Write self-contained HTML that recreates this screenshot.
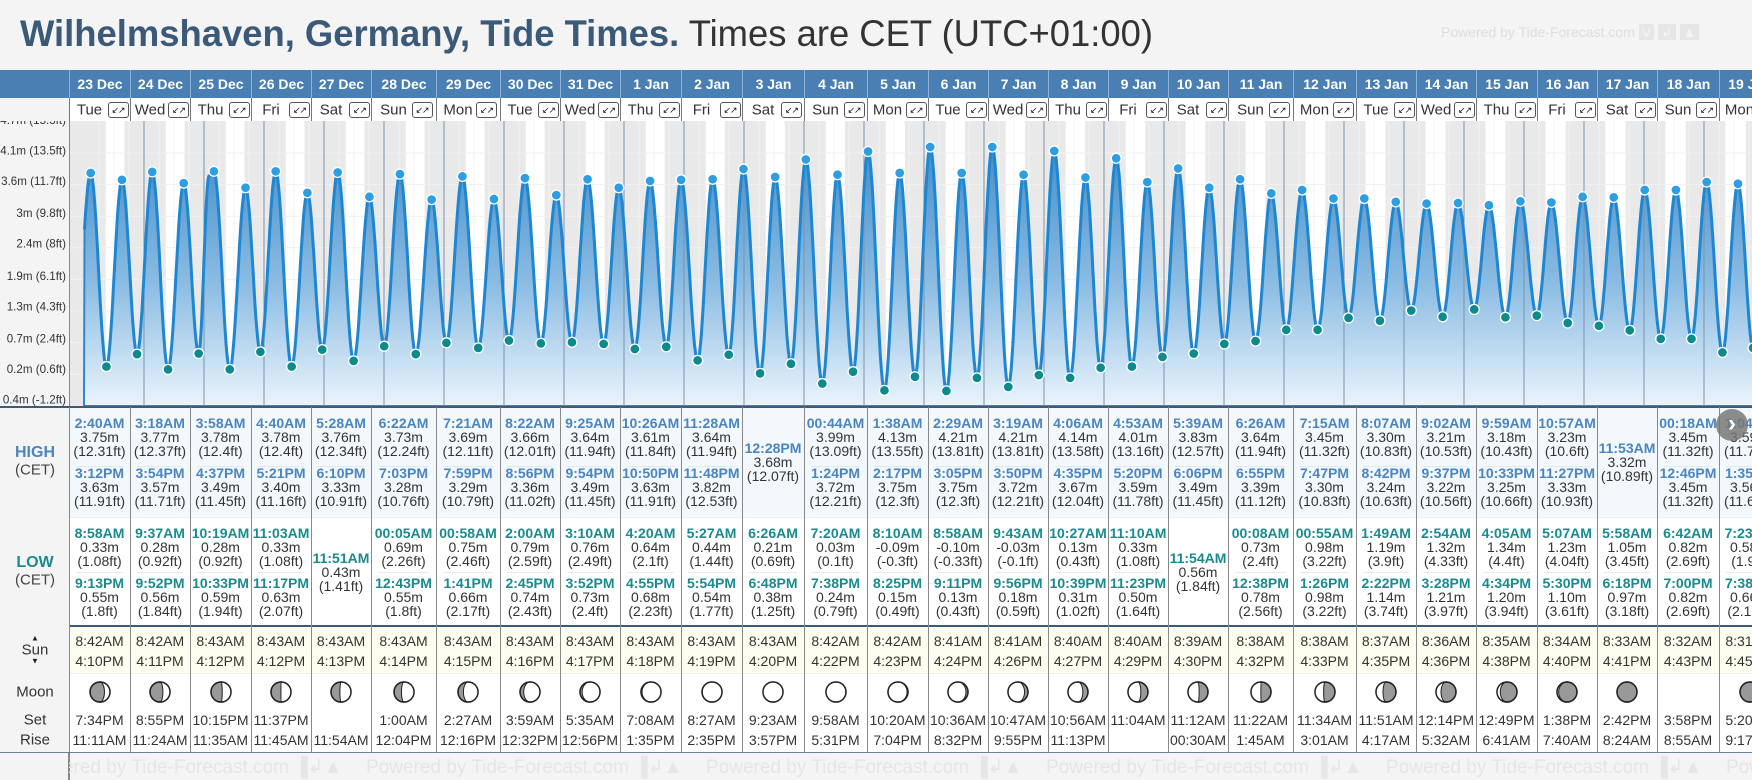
<!DOCTYPE html>
<html><head><meta charset="utf-8">
<style>
*{box-sizing:border-box;margin:0;padding:0}
body{width:1752px;height:780px;overflow:hidden;background:#f4f4f4;font-family:"Liberation Sans",Arial,sans-serif;position:relative;color:#333}
#wrap{position:absolute;left:0;top:0;width:1752px;height:780px;overflow:hidden}
.abs{position:absolute}
.c{position:absolute;text-align:center;white-space:nowrap;transform:translate(-50%,-50%)}
#title{position:absolute;left:20px;top:13px;font-size:37px;white-space:nowrap;transform-origin:0 0;color:#333}
#title b{color:#3b5a78}
.hd{position:absolute;top:70px;height:28px;background:#4a7fb3;color:#fff;font-weight:bold;font-size:14px;line-height:28px;text-align:center;border-left:1px solid #8fb0d2}
.dw{position:absolute;top:98px;height:23px;background:#fff;border-left:1px solid #777;font-size:15px}
.ex{position:absolute;top:4px;width:21px;height:16px;border:1px solid #555;border-radius:3px;font-size:9px;line-height:14px;text-align:center;color:#111;letter-spacing:-1px}
.col{position:absolute;top:407px;height:345px;border-left:1px solid #888}
.t{font-size:14px;line-height:14px}
.hb{color:#4a85be;font-weight:bold}
.lb{color:#1a8a8f;font-weight:bold}
.foot{position:absolute;top:756px;font-size:19px;color:#e6e6e6;white-space:nowrap}
</style></head><body><div id="wrap">
<div id="title"><b>Wilhelmshaven, Germany, Tide Times.</b> Times are CET (UTC+01:00)</div>
<div class="abs" style="left:1441px;top:24px;font-size:14px;color:#dedede;white-space:nowrap">Powered by Tide-Forecast.com <span style="background:#e6e6e6;color:#f4f4f4;padding:0 3px">V</span> <span style="background:#e6e6e6;color:#f4f4f4;padding:0 3px">↲</span> <span style="background:#e6e6e6;color:#f4f4f4;padding:0 3px">▲</span></div>
<div class="abs" style="left:0;top:70px;width:69px;height:28px;background:#4a7fb3"></div>
<div class="abs" style="left:0;top:98px;width:69px;height:23px;background:#f4f4f4"></div>
<svg id="chart" class="abs" style="left:0;top:0" width="1752" height="780"></svg>
<div id="tbl"></div>
</div>
<script>
const dates=["23 Dec","24 Dec","25 Dec","26 Dec","27 Dec","28 Dec","29 Dec","30 Dec","31 Dec","1 Jan","2 Jan","3 Jan","4 Jan","5 Jan","6 Jan","7 Jan","8 Jan","9 Jan","10 Jan","11 Jan","12 Jan","13 Jan","14 Jan","15 Jan","16 Jan","17 Jan","18 Jan","19 Jan"];
const dows=["Tue","Wed","Thu","Fri","Sat","Sun","Mon","Tue","Wed","Thu","Fri","Sat","Sun","Mon","Tue","Wed","Thu","Fri","Sat","Sun","Mon","Tue","Wed","Thu","Fri","Sat","Sun","Mon"];
const highTimes=[["2:40AM","3:12PM"],["3:18AM","3:54PM"],["3:58AM","4:37PM"],["4:40AM","5:21PM"],["5:28AM","6:10PM"],["6:22AM","7:03PM"],["7:21AM","7:59PM"],["8:22AM","8:56PM"],["9:25AM","9:54PM"],["10:26AM","10:50PM"],["11:28AM","11:48PM"],["12:28PM"],["00:44AM","1:24PM"],["1:38AM","2:17PM"],["2:29AM","3:05PM"],["3:19AM","3:50PM"],["4:06AM","4:35PM"],["4:53AM","5:20PM"],["5:39AM","6:06PM"],["6:26AM","6:55PM"],["7:15AM","7:47PM"],["8:07AM","8:42PM"],["9:02AM","9:37PM"],["9:59AM","10:33PM"],["10:57AM","11:27PM"],["11:53AM"],["00:18AM","12:46PM"],["1:04AM","1:35PM"]];
const highMeters=[[3.75,3.63],[3.77,3.57],[3.78,3.49],[3.78,3.40],[3.76,3.33],[3.73,3.28],[3.69,3.29],[3.66,3.36],[3.64,3.49],[3.61,3.63],[3.64,3.82],[3.68],[3.99,3.72],[4.13,3.75],[4.21,3.75],[4.21,3.72],[4.14,3.67],[4.01,3.59],[3.83,3.49],[3.64,3.39],[3.45,3.30],[3.30,3.24],[3.21,3.22],[3.18,3.25],[3.23,3.33],[3.32],[3.45,3.45],[3.59,3.56]];
const highFeet=[[12.31,11.91],[12.37,11.71],[12.4,11.45],[12.4,11.16],[12.34,10.91],[12.24,10.76],[12.11,10.79],[12.01,11.02],[11.94,11.45],[11.84,11.91],[11.94,12.53],[12.07],[13.09,12.21],[13.55,12.3],[13.81,12.3],[13.81,12.21],[13.58,12.04],[13.16,11.78],[12.57,11.45],[11.94,11.12],[11.32,10.83],[10.83,10.63],[10.53,10.56],[10.43,10.66],[10.6,10.93],[10.89],[11.32,11.32],[11.78,11.68]];
const lowTimes=[["8:58AM","9:13PM"],["9:37AM","9:52PM"],["10:19AM","10:33PM"],["11:03AM","11:17PM"],["11:51AM"],["00:05AM","12:43PM"],["00:58AM","1:41PM"],["2:00AM","2:45PM"],["3:10AM","3:52PM"],["4:20AM","4:55PM"],["5:27AM","5:54PM"],["6:26AM","6:48PM"],["7:20AM","7:38PM"],["8:10AM","8:25PM"],["8:58AM","9:11PM"],["9:43AM","9:56PM"],["10:27AM","10:39PM"],["11:10AM","11:23PM"],["11:54AM"],["00:08AM","12:38PM"],["00:55AM","1:26PM"],["1:49AM","2:22PM"],["2:54AM","3:28PM"],["4:05AM","4:34PM"],["5:07AM","5:30PM"],["5:58AM","6:18PM"],["6:42AM","7:00PM"],["7:23AM","7:38PM"]];
const lowMeters=[[0.33,0.55],[0.28,0.56],[0.28,0.59],[0.33,0.63],[0.43],[0.69,0.55],[0.75,0.66],[0.79,0.74],[0.76,0.73],[0.64,0.68],[0.44,0.54],[0.21,0.38],[0.03,0.24],[-0.09,0.15],[-0.10,0.13],[-0.03,0.18],[0.13,0.31],[0.33,0.50],[0.56],[0.73,0.78],[0.98,0.98],[1.19,1.14],[1.32,1.21],[1.34,1.20],[1.23,1.10],[1.05,0.97],[0.82,0.82],[0.58,0.66]];
const lowFeet=[[1.08,1.8],[0.92,1.84],[0.92,1.94],[1.08,2.07],[1.41],[2.26,1.8],[2.46,2.17],[2.59,2.43],[2.49,2.4],[2.1,2.23],[1.44,1.77],[0.69,1.25],[0.1,0.79],[-0.3,0.49],[-0.33,0.43],[-0.1,0.59],[0.43,1.02],[1.08,1.64],[1.84],[2.4,2.56],[3.22,3.22],[3.9,3.74],[4.33,3.97],[4.4,3.94],[4.04,3.61],[3.45,3.18],[2.69,2.69],[1.9,2.17]];
const sunrise=["8:42AM","8:42AM","8:43AM","8:43AM","8:43AM","8:43AM","8:43AM","8:43AM","8:43AM","8:43AM","8:43AM","8:43AM","8:42AM","8:42AM","8:41AM","8:41AM","8:40AM","8:40AM","8:39AM","8:38AM","8:38AM","8:37AM","8:36AM","8:35AM","8:34AM","8:33AM","8:32AM","8:31AM"];
const sunset=["4:10PM","4:11PM","4:12PM","4:12PM","4:13PM","4:14PM","4:15PM","4:16PM","4:17PM","4:18PM","4:19PM","4:20PM","4:22PM","4:23PM","4:24PM","4:26PM","4:27PM","4:29PM","4:30PM","4:32PM","4:33PM","4:35PM","4:36PM","4:38PM","4:40PM","4:41PM","4:43PM","4:45PM"];
const moonSet=["7:34PM","8:55PM","10:15PM","11:37PM","","1:00AM","2:27AM","3:59AM","5:35AM","7:08AM","8:27AM","9:23AM","9:58AM","10:20AM","10:36AM","10:47AM","10:56AM","11:04AM","11:12AM","11:22AM","11:34AM","11:51AM","12:14PM","12:49PM","1:38PM","2:42PM","3:58PM","5:20PM"];
const moonRise=["11:11AM","11:24AM","11:35AM","11:45AM","11:54AM","12:04PM","12:16PM","12:32PM","12:56PM","1:35PM","2:35PM","3:57PM","5:31PM","7:04PM","8:32PM","9:55PM","11:13PM","","00:30AM","1:45AM","3:01AM","4:17AM","5:32AM","6:41AM","7:40AM","8:24AM","8:55AM","9:17AM"];
const moonAge=[5.2,6.0,6.8,7.4,7.9,8.6,9.6,10.6,11.6,12.6,13.6,14.7,15.8,16.8,17.8,18.8,19.8,20.8,21.6,22.2,22.8,23.6,24.6,25.6,26.8,29.2,-1,1.6];
const edgeBefore=[-3.9,0.52];
const edgeAfter=[50.0,3.70];
const yTickLabels=["4.7m (15.3ft)","4.1m (13.5ft)","3.6m (11.7ft)","3m (9.8ft)","2.4m (8ft)","1.9m (6.1ft)","1.3m (4.3ft)","0.7m (2.4ft)","0.2m (0.6ft)","0.4m (-1.2ft)"];
const yTickFeet=[15.3,13.5,11.7,9.8,8,6.1,4.3,2.4,0.6,-1.2];
const colLefts=[69,130,190,251,311,371,436,500,560,620,681,742,804,867,928,988,1048,1108,1168,1228,1293,1356,1416,1476,1537,1597,1657,1719,1780];

function parseT(s){const m=s.match(/(\d+):(\d+)(AM|PM)/);let h=+m[1];if(m[3]==='PM'&&h!==12)h+=12;if(m[3]==='AM'&&h===12)h=0;return h+(+m[2])/60;}
function xAxis(hours){return 84+hours*2.5;}
function yAxis(m){return 385.25-56.6*m;}
function yTick(ft){return 150+(13.5-ft)*16.94;}

const NS='http://www.w3.org/2000/svg';
const svg=document.getElementById('chart');
function sv(tag,at,parent){const e=document.createElementNS(NS,tag);for(const k in at)e.setAttribute(k,at[k]);(parent||svg).appendChild(e);return e;}
const defs=sv('defs',{});
const cp=sv('clipPath',{id:'plotclip'},defs);sv('rect',{x:70,y:121,width:1682,height:286},cp);
const lg=sv('linearGradient',{id:'fillg',x1:0,y1:140,x2:0,y2:406,gradientUnits:'userSpaceOnUse'},defs);
sv('stop',{offset:0,'stop-color':'#3f8ccb'},lg);sv('stop',{offset:0.55,'stop-color':'#8dbde3'},lg);sv('stop',{offset:1,'stop-color':'#eaf4fc'},lg);
const g=sv('g',{'clip-path':'url(#plotclip)'});
const bg=sv('rect',{x:70,y:121,width:1682,height:286,fill:'#e9e9e9'},g);


for(let d=0;d<29;d++){const k=Math.min(d,sunrise.length-1);const a=xAxis(d*24+parseT(sunrise[k])),b=xAxis(d*24+parseT(sunset[k]));
const r=sv('rect',{x:a,y:121,width:b-a,height:286,fill:'#fff'},g);

}
for(let h=6;h<29*24;h+=6){const x=xAxis(h);sv('line',{x1:x,x2:x,y1:121,y2:407,stroke:'#f3f3f3','stroke-width':1},g);}
for(let i=0;i<9;i++){const y=153+31.6*i;sv('line',{x1:70,x2:1752,y1:y,y2:y,stroke:'#f1f1f1','stroke-width':1},g);}
const ext=[edgeBefore];
for(let d=0;d<dates.length;d++){highTimes[d].forEach((t,i)=>ext.push([d*24+parseT(t),highMeters[d][i],'H']));lowTimes[d].forEach((t,i)=>ext.push([d*24+parseT(t),lowMeters[d][i],'L']));}
ext.push(edgeAfter);ext.sort((a,b)=>a[0]-b[0]);
let pts=[];
for(let i=0;i<ext.length-1;i++){const [t0,v0]=ext[i],[t1,v1]=ext[i+1];for(let s=0;s<=16;s++){const f=s/16;const t=t0+(t1-t0)*f;if(t<0)continue;const v=v0+(v1-v0)*(1-Math.cos(Math.PI*f))/2;pts.push([xAxis(t),yAxis(v)]);}}
let d0='M'+xAxis(0)+',406 '+pts.map(p=>'L'+p[0].toFixed(1)+','+p[1].toFixed(1)).join(' ')+' L'+pts[pts.length-1][0].toFixed(1)+',406 Z';
const area=sv('path',{d:d0,fill:'url(#fillg)',stroke:'#2a88cf','stroke-width':2},g);


for(let d=1;d<29;d++){const x=xAxis(d*24);const ln=sv('line',{x1:x,x2:x,y1:121,y2:407,stroke:'#7d93ab','stroke-width':1},g);

}
const line=sv('path',{d:'M'+pts.map(p=>p[0].toFixed(1)+','+p[1].toFixed(1)).join(' L'),fill:'none',stroke:'#1f86d0','stroke-width':3,'stroke-linejoin':'round'},g);


ext.forEach(e=>{if(!e[2])return;const c=sv('circle',{cx:xAxis(e[0]),cy:yAxis(e[1]),r:5,fill:e[2]==='H'?'#2e9ee2':'#0d8a8c',stroke:'#fff','stroke-width':1.3},g);

});
const ax=sv('line',{x1:69.5,x2:69.5,y1:121,y2:780,stroke:'#888','stroke-width':1});


const cp2=sv('clipPath',{id:'lblclip'},defs);sv('rect',{x:0,y:121,width:70,height:286},cp2);
const tg=sv('g',{'clip-path':'url(#lblclip)'});
yTickFeet.forEach((ft,i)=>{const tx=sv('text',{x:66,y:yTick(ft)+4.5,'text-anchor':'end','font-size':11.6,fill:'#333','font-family':'Liberation Sans, sans-serif'},tg);tx.textContent=yTickLabels[i];

});
[[407,2,'#3b5b7b'],[626,2,'#3b5b7b'],[752,1.5,'#3b5b7b']].forEach(r=>{const l=sv('line',{x1:0,x2:1752,y1:r[0],y2:r[0],stroke:r[2],'stroke-width':r[1]});});

const tbl=document.getElementById('tbl');
function mk(cls,style,text,parent){const e=document.createElement('div');if(cls)e.className=cls;if(style)e.style.cssText=style;if(text!==undefined)e.textContent=text;(parent||tbl).appendChild(e);return e;}
const rb1=mk('abs','left:70px;top:408px;width:1682px;height:109px;background:#f3f8fd');


const rb2=mk('abs','left:70px;top:517px;width:1682px;height:108px;background:#fff;border-top:1px solid #eef1f4');


const rb3=mk('abs','left:70px;top:627px;width:1682px;height:46px;background:#fdfdf0');


const rb4=mk('abs','left:70px;top:673px;width:1682px;height:79px;background:#fff;border-top:1px solid #eee');


const rb5=mk('abs','left:0;top:408px;width:69px;height:344px;background:#f4f4f4');


for(let k=0;k<6;k++){const f=mk('foot','left:'+(26+340*k)+'px','Powered by Tide-Forecast.com \u2590\u21b2\u25b2');

}
const fc=mk('abs','left:0;top:753px;width:69px;height:27px;background:#f4f4f4;border-right:1px solid #888');


function lbl(name,text,y,style){const e=mk('c','left:35px;top:'+y+'px;'+style,text);}
lbl('high-label','HIGH',453,'font-size:16px;font-weight:bold;color:#4a85be');
lbl('high-tz-label','(CET)',470,'font-size:15px;color:#444');
lbl('low-label','LOW',563,'font-size:16px;font-weight:bold;color:#1a8a8f');
lbl('low-tz-label','(CET)',580,'font-size:15px;color:#444');
lbl('sun-up-icon','\u25b2',638,'font-size:8px;color:#222');
lbl('sun-label','Sun',650,'font-size:15px;color:#333');
lbl('sun-down-icon','\u25bc',661,'font-size:8px;color:#222');
lbl('moon-label','Moon',692,'font-size:15px;color:#333');
lbl('moonset-label','Set',720,'font-size:15px;color:#333');
lbl('moonrise-label','Rise',740,'font-size:15px;color:#333');

function moonSvg(age){const r=10;const th=2*Math.PI*age/29.53;const k=(1-Math.cos(th))/2;const rx=Math.abs(1-2*k)*r;const wax=age<14.77;const sweep=k>0.5?1:0;
return '<svg width="24" height="24" viewBox="-12 -12 24 24"><circle r="10" fill="#999" stroke="#222" stroke-width="1.4"/><g transform="scale('+(wax?1:-1)+',1)"><path d="M0,-10 A10,10 0 0 1 0,10 A'+rx.toFixed(2)+',10 0 0 '+sweep+' 0,-10 Z" fill="#fff" stroke="#222" stroke-width="1"/></g><circle r="10" fill="none" stroke="#222" stroke-width="1.4"/></svg>';}

for(let i=0;i<dates.length;i++){
 const L=colLefts[i],W=colLefts[i+1]-colLefts[i],cx=L+W/2;
 const h=mk('hd','left:'+L+'px;width:'+W+'px',dates[i]);
 
 
 const dw=mk('dw','left:'+L+'px;width:'+W+'px');
 
 
 const dt=mk('c','left:'+(W/2-11)+'px;top:12px',dows[i],dw);
 
 
 const ex=mk('ex','left:'+(W/2+7)+'px','\u2199\u2197',dw);
 
 
 const col=mk('col','left:'+L+'px;width:'+W+'px');
 
 
 function put(y,text,cls,name){const e=mk('c t '+(cls||''),'left:'+cx+'px;top:'+y+'px',text);}
 const hs=highTimes[i].length===1?[448]:[423,473];
 highTimes[i].forEach((t,j)=>{const y=hs[j];put(y,t,'hb','high-tide-time');put(y+14,highMeters[i][j].toFixed(2)+'m','','high-tide-meters');put(y+28,'('+highFeet[i][j]+'ft)','','high-tide-feet');});
 if(highTimes[i].length>1){const s=mk('abs','left:'+(L+7)+'px;top:466px;width:'+(W-14)+'px;height:1px;background:#e2e8ef');}
 const ls=lowTimes[i].length===1?[558]:[533,583];
 lowTimes[i].forEach((t,j)=>{const y=ls[j];put(y,t,'lb','low-tide-time');put(y+14,lowMeters[i][j].toFixed(2)+'m','','low-tide-meters');put(y+28,'('+lowFeet[i][j]+'ft)','','low-tide-feet');});
 if(lowTimes[i].length>1){const s=mk('abs','left:'+(L+7)+'px;top:572px;width:'+(W-14)+'px;height:1px;background:#e8ecef');}
 put(641,sunrise[i],'','sunrise-time');
 put(661,sunset[i],'','sunset-time');
 if(moonAge[i]>=0){const m=mk('c','left:'+cx+'px;top:692px;line-height:0');m.innerHTML=moonSvg(moonAge[i]);}
 put(720,moonSet[i],'','moonset-time');
 put(740,moonRise[i],'','moonrise-time');
}
const nb=mk('c','left:1732px;top:425px;width:32px;height:32px;border-radius:50%;background:rgba(120,120,120,0.85);color:#fff;font-size:24px;line-height:30px;font-weight:bold;transform:translate(-50%,-50%)','\u203a');


const ti=document.getElementById('title');const w=ti.getBoundingClientRect().width;ti.style.transform='scaleX('+(1133/w)+')';
</script>
</body></html>
